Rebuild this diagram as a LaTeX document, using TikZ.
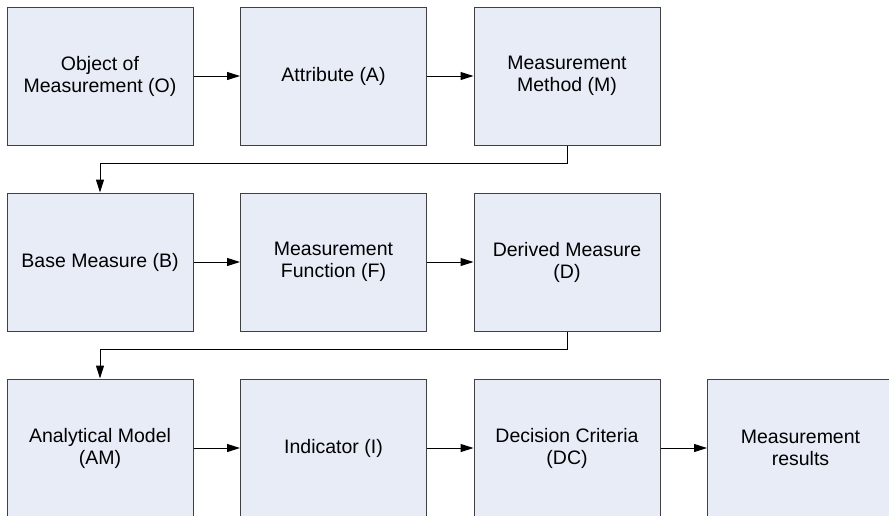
\documentclass[tikz,border=0pt]{standalone}
\usepackage{fontspec}
\setmainfont{Liberation Sans}
\usepackage{tikz}
\usetikzlibrary{arrows.meta,positioning}
\definecolor{boxFill}{RGB}{231, 236, 247}
\definecolor{boxEdge}{RGB}{64, 64, 64}
\definecolor{inkBlack}{RGB}{0, 0, 0}

\begin{document}
\begin{tikzpicture}[
        stagebox/.style={draw=boxEdge, line width=1pt, fill=boxFill, minimum width=186pt, minimum height=138pt, inner sep=0pt, align=center, text=inkBlack, font=\fontsize{19.5pt}{22pt}\selectfont},
        flow/.style={line width=1pt, draw=inkBlack, -{Triangle[length=13pt,width=8pt]}},
        node distance=47pt and 46.5pt
    ]
    \useasboundingbox (0,0) rectangle (889pt,-515pt);
    % first row
    \node[stagebox] (objMeas) at (100pt,-76pt) {Object of\\Measurement (O)};
    \node[stagebox, right=of objMeas] (attr) {Attribute (A)};
    \node[stagebox, right=of attr] (measMethod) {Measurement\\Method (M)};
    % second row
    \node[stagebox, below=of objMeas] (baseMeas) {Base Measure (B)};
    \node[stagebox, right=of baseMeas] (measFunc) {Measurement\\Function (F)};
    \node[stagebox, right=of measFunc] (derivedMeas) {Derived Measure\\(D)};
    % third row
    \node[stagebox, below=of baseMeas] (anaModel) {Analytical Model\\(AM)};
    \node[stagebox, right=of anaModel] (indicator) {Indicator (I)};
    \node[stagebox, right=of indicator] (decCrit) {Decision Criteria\\(DC)};
    \node[stagebox, right=of decCrit] (measResults) {Measurement\\results};

    \draw[flow] (objMeas) -- (attr);
    \draw[flow] (attr) -- (measMethod);
    \draw[flow] (measMethod.south) -- ++(0,-18pt) -| (baseMeas.north);
    \draw[flow] (baseMeas) -- (measFunc);
    \draw[flow] (measFunc) -- (derivedMeas);
    \draw[flow] (derivedMeas.south) -- ++(0,-18pt) -| (anaModel.north);
    \draw[flow] (anaModel) -- (indicator);
    \draw[flow] (indicator) -- (decCrit);
    \draw[flow] (decCrit) -- (measResults);
\end{tikzpicture}
\end{document}
